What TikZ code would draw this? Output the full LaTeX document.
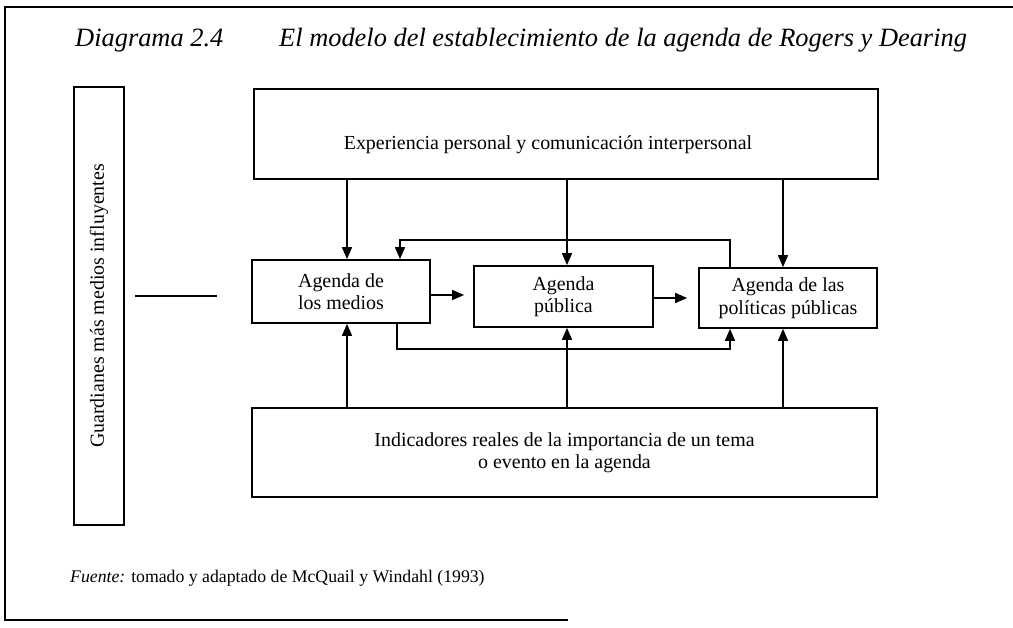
\documentclass[tikz,border=0pt]{standalone}
\usepackage{fontspec}
\setmainfont{Liberation Serif}
\usetikzlibrary{arrows.meta,calc}
\begin{document}
\begin{tikzpicture}[x=1bp,y=-1bp,
  box/.style={draw,line width=1.7bp,inner sep=0pt,align=center,
    font=\fontsize{20}{22.5}\selectfont},
  conn/.style={line width=1.5bp},
  arr/.style={conn,-{Triangle[length=12bp,width=10bp]}},
  ttl/.style={font=\fontsize{26.5}{30}\selectfont\itshape,anchor=base west,inner sep=0pt}]
\useasboundingbox (0,0) rectangle (1013,628);
% outer frame
\draw[line width=1.6bp] (1013,7) -- (5,7) -- (5,620) -- (568,620);
% title
\node[ttl] (tnum) at (75,47) {Diagrama 2.4};
\node[ttl] (ttext) at (279,47) {El modelo del establecimiento de la agenda de Rogers y Dearing};
% boxes
\node[box,minimum width=50bp,minimum height=438bp] (guard) at (99,306) {};
\node[rotate=90,font=\fontsize{20}{22}\selectfont,inner sep=0pt] (guardt) at (guard.center) {Guardianes más medios influyentes};
\node[box,minimum width=624bp,minimum height=90bp] (exp) at (566,134) {};
\node[font=\fontsize{20}{22}\selectfont,anchor=base,inner sep=0pt] (expt) at (548,150) {Experiencia personal y comunicación interpersonal};
\node[box,minimum width=178bp,minimum height=63bp] (med) at (341,291.5) {Agenda de\\los medios};
\node[box,minimum width=179bp,minimum height=61bp] (pub) at (563.5,296.5) {Agenda\\pública};
\node[box,minimum width=178bp,minimum height=60bp] (pol) at (788,298) {Agenda de las\\políticas públicas};
\node[box,minimum width=625bp,minimum height=89bp] (ind) at (564.5,452.5) {Indicadores reales de la importancia de un tema\\o evento en la agenda};
% dash next to left box
\coordinate (d1) at (135,296);
\coordinate (d2) at (217,296);
\draw[conn] (d1) -- (d2);
% arrows from top box
\draw[arr] (exp.south -| 347,0) -- (med.north -| 347,0);
\draw[arr] (exp.south -| 567,0) -- (pub.north -| 567,0);
\draw[arr] (exp.south -| 783,0) -- (pol.north -| 783,0);
% arrows from bottom box
\draw[arr] (ind.north -| 347,0) -- (med.south -| 347,0);
\draw[arr] (ind.north -| 567,0) -- (pub.south -| 567,0);
\draw[arr] (ind.north -| 783,0) -- (pol.south -| 783,0);
% horizontal arrows
\draw[arr] (med.east |- 0,295) -- ([xshift=-9bp]pub.west |- 0,295);
\draw[arr] (pub.east |- 0,298) -- ([xshift=-11bp]pol.west |- 0,298);
% feedback loops
\draw[arr] (pol.north -| 730,0) -- (730,240) -- (400,240) -- (med.north -| 400,0);
\draw[arr] (med.south -| 397,0) -- (397,349) -- (730,349) -- (pol.south -| 730,0);
% source
\node[anchor=base west,inner sep=0pt,font=\fontsize{17.8}{20}\selectfont] (src) at (70,582) {\textit{Fuente:} tomado y adaptado de McQuail y Windahl (1993)};
\end{tikzpicture}
\end{document}
